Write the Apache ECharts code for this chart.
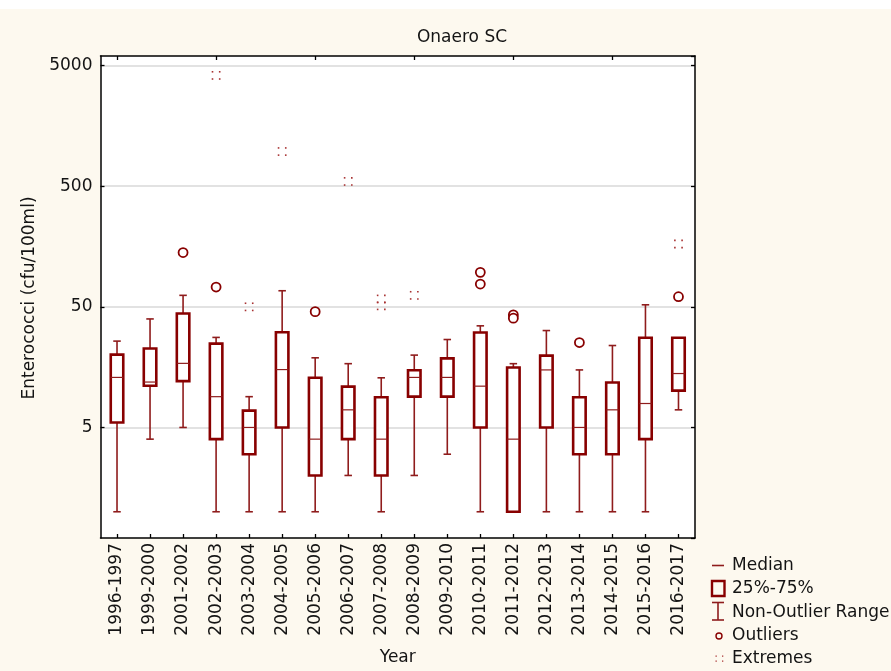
<!DOCTYPE html>
<html>
<head>
<meta charset="utf-8">
<script src="https://cdn.jsdelivr.net/npm/echarts@6/dist/echarts.min.js"></script>
<style>
html,body{margin:0;padding:0;background:#fdf9ef;}
#chart{width:891px;height:671px;}
</style>
</head>
<body>
<div id="chart"></div>
<script>
// ---- data (cfu/100ml) ----
const categories = ['1996-1997','1999-2000','2001-2002','2002-2003','2003-2004','2004-2005','2005-2006','2006-2007','2007-2008','2008-2009','2009-2010','2010-2011','2011-2012','2012-2013','2013-2014','2014-2015','2015-2016','2016-2017'];
const whiskerLow  = [1, 4, 5, 1, 1, 1, 1, 2, 1, 2, 3, 1, 1, 1, 1, 1, 1, 7];
const q1          = [5.5, 11.1, 12.1, 4, 3, 5, 2, 4, 2, 9, 9, 5, 1, 5, 3, 3, 4, 10.1];
const median      = [13, 11.9, 17, 9, 5, 15.1, 4, 7, 4, 13, 13, 11, 4, 15, 5, 7, 7.9, 14];
const q3          = [20.1, 22.6, 44, 24.8, 6.9, 30.8, 12.9, 10.9, 8.9, 14.9, 18.7, 30.6, 15.7, 19.7, 8.9, 11.8, 27.7, 27.7];
const whiskerHigh = [26, 39.7, 62.3, 27.9, 9, 68, 18.9, 16.9, 12.9, 19.9, 26.8, 34.8, 16.9, 31.8, 15, 23.9, 52, 27.7];
const outlierYears  = ['2001-2002','2002-2003','2005-2006','2010-2011','2010-2011','2011-2012','2011-2012','2013-2014','2016-2017'];
const outlierValues = [141, 73, 45.6, 96.6, 77.3, 42.9, 40.3, 25.3, 60.7];
const extremeYears  = ['2002-2003','2003-2004','2004-2005','2006-2007','2007-2008','2007-2008','2008-2009','2016-2017'];
const extremeValues = [4150, 50, 970, 548, 58.1, 51, 62.3, 166];
const yTickLabels = [5, 50, 500, 5000];
const yMin = 0.606, yMax = 6010;

// ---- build ----
const K = 5; // axis works on value/5 so that log ticks fall on 5, 50, 500, 5000
const DARK = '#880000';
const WH = '#8f1c1c';
const FONT = '"DejaVu Sans", Verdana, sans-serif';
const FS = 17;
const TXT = '#141414';

const boxData = categories.map((c, i) => [i, whiskerLow[i]/K, q1[i]/K, median[i]/K, q3[i]/K, whiskerHigh[i]/K]);
const outlierData = outlierYears.map((y, i) => [categories.indexOf(y), outlierValues[i]/K]);
const extremeData = extremeYears.map((y, i) => [categories.indexOf(y), extremeValues[i]/K]);

function renderBox(params, api) {
  const i = api.value(0);
  const x = api.coord([i, api.value(3)])[0];
  const yLo = api.coord([i, api.value(1)])[1];
  const yQ1 = api.coord([i, api.value(2)])[1];
  const yMed = api.coord([i, api.value(3)])[1];
  const yQ3 = api.coord([i, api.value(4)])[1];
  const yHi = api.coord([i, api.value(5)])[1];
  const bw = 12.5, cw = 7.5;
  const ch = [];
  const wStyle = {stroke: WH, lineWidth: 1.6};
  if (yLo - yQ1 > 0.5) {
    ch.push({type:'line', shape:{x1:x, y1:yQ1, x2:x, y2:yLo}, style:wStyle});
  }
  ch.push({type:'line', shape:{x1:x-cw/2, y1:yLo, x2:x+cw/2, y2:yLo}, style:wStyle});
  if (yQ3 - yHi > 0.5) {
    ch.push({type:'line', shape:{x1:x, y1:yHi, x2:x, y2:yQ3}, style:wStyle});
  }
  ch.push({type:'line', shape:{x1:x-cw/2, y1:yHi, x2:x+cw/2, y2:yHi}, style:wStyle});
  ch.push({type:'rect', shape:{x:x-bw/2, y:yQ3, width:bw, height:Math.max(yQ1-yQ3,1)}, style:{fill:'#ffffff', stroke:DARK, lineWidth:2.6}});
  ch.push({type:'line', shape:{x1:x-bw/2, y1:yMed, x2:x+bw/2, y2:yMed}, style:{stroke:WH, lineWidth:1.2}});
  return {type:'group', children: ch};
}

function renderExtreme(params, api) {
  const p = api.coord([api.value(0), api.value(1)]);
  const d = 3.6, s = 1.6;
  const st = {fill:'#a83232'};
  return {type:'group', children:[
    {type:'rect', shape:{x:p[0]-d-s/2, y:p[1]-d-s/2, width:s, height:s}, style:st},
    {type:'rect', shape:{x:p[0]+d-s/2, y:p[1]-d-s/2, width:s, height:s}, style:st},
    {type:'rect', shape:{x:p[0]-d-s/2, y:p[1]+d-s/2, width:s, height:s}, style:st},
    {type:'rect', shape:{x:p[0]+d-s/2, y:p[1]+d-s/2, width:s, height:s}, style:st}
  ]};
}

const chart = echarts.init(document.getElementById('chart'), null, {renderer:'canvas'});

const legendX = 711, legendTextX = 732;
const legendRows = [565.5, 589, 612.5, 636, 658.5];
const legendNames = ['Median', '25%-75%', 'Non-Outlier Range', 'Outliers', 'Extremes'];
const graphics = [
  {type:'rect', shape:{x:0, y:0, width:891, height:9}, style:{fill:'#ffffff'}, silent:true, z:-10},
  {type:'text', x:30, y:298, rotation:Math.PI/2, style:{text:'Enterococci (cfu/100ml)', fontSize:FS, fontFamily:FONT, fill:TXT, align:'center', verticalAlign:'middle', textAlign:'center', textVerticalAlign:'middle'}},
  // legend icons
  {type:'line', shape:{x1:legendX+1, y1:legendRows[0], x2:legendX+13, y2:legendRows[0]}, style:{stroke:WH, lineWidth:1.6}},
  {type:'rect', shape:{x:legendX+1, y:legendRows[1]-8, width:12.5, height:15}, style:{fill:'none', stroke:DARK, lineWidth:2.4}},
  {type:'line', shape:{x1:legendX+7, y1:legendRows[2]-10, x2:legendX+7, y2:legendRows[2]+7.5}, style:{stroke:WH, lineWidth:1.6}},
  {type:'line', shape:{x1:legendX+1, y1:legendRows[2]-10, x2:legendX+13, y2:legendRows[2]-10}, style:{stroke:WH, lineWidth:1.6}},
  {type:'line', shape:{x1:legendX+1, y1:legendRows[2]+7.5, x2:legendX+13, y2:legendRows[2]+7.5}, style:{stroke:WH, lineWidth:1.6}},
  {type:'circle', shape:{cx:legendX+8, cy:legendRows[3], r:3}, style:{fill:'none', stroke:DARK, lineWidth:1.4}},
  {type:'rect', shape:{x:legendX+4.5, y:legendRows[4]-3, width:1.3, height:1.3}, style:{fill:'#a83232'}},
  {type:'rect', shape:{x:legendX+11, y:legendRows[4]-3, width:1.3, height:1.3}, style:{fill:'#a83232'}},
  {type:'rect', shape:{x:legendX+4.5, y:legendRows[4]+2, width:1.3, height:1.3}, style:{fill:'#a83232'}},
  {type:'rect', shape:{x:legendX+11, y:legendRows[4]+2, width:1.3, height:1.3}, style:{fill:'#a83232'}}
];
legendNames.forEach((n, k) => {
  graphics.push({type:'text', x:legendTextX, y:legendRows[k], style:{text:n, fontSize:FS, fontFamily:FONT, fill:TXT, align:'left', verticalAlign:'middle', textAlign:'left', textVerticalAlign:'middle'}});
});

const yLabelFmt = v => {
  const r = Math.round(v * K);
  return yTickLabels.includes(r) ? String(r) : '';
};

const option = {
  backgroundColor: '#fdf9ef',
  animation: false,
  title: {
    text: 'Onaero SC', left: 457, top: 24, textAlign: 'center',
    textStyle: {fontSize: FS, fontWeight: 'normal', fontFamily: FONT, color: TXT}
  },
  grid: {left: 100.5, right: 196, top: 56, bottom: 131, show: true, backgroundColor: '#ffffff', borderWidth: 0},
  xAxis: [{
    type: 'category', data: categories, position: 'bottom', boundaryGap: true,
    axisLine: {show: true, lineStyle: {color: '#000', width: 1.5}},
    axisTick: {show: true, inside: true, alignWithLabel: true, length: 4, lineStyle: {color: '#000', width: 1.3}},
    axisLabel: {rotate: 90, margin: 5, fontSize: FS, fontFamily: FONT, color: TXT, interval: 0},
    splitLine: {show: false},
    name: 'Year', nameLocation: 'middle', nameGap: 111,
    nameTextStyle: {fontSize: FS, fontFamily: FONT, color: TXT, verticalAlign: 'top'}
  }, {
    type: 'category', data: categories, position: 'top', boundaryGap: true,
    axisLine: {show: true, lineStyle: {color: '#000', width: 1.5}},
    axisTick: {show: true, inside: true, alignWithLabel: true, length: 4, lineStyle: {color: '#000', width: 1.3}},
    axisLabel: {show: false}, splitLine: {show: false}
  }],
  yAxis: [{
    type: 'log', logBase: 10, min: yMin / K, max: yMax / K, position: 'left',
    axisLine: {show: true, lineStyle: {color: '#000', width: 1.5}},
    axisTick: {show: true, inside: true, length: 4, lineStyle: {color: '#000', width: 1.3}},
    minorTick: {show: false},
    axisLabel: {formatter: yLabelFmt, margin: 8, fontSize: FS, fontFamily: FONT, color: TXT, showMinLabel: false, showMaxLabel: false},
    splitLine: {show: true, showMinLine: false, showMaxLine: false, lineStyle: {color: '#d8d8d8', width: 1.6}}
  }, {
    type: 'log', logBase: 10, min: yMin / K, max: yMax / K, position: 'right',
    axisLine: {show: true, lineStyle: {color: '#000', width: 1.5}},
    axisTick: {show: true, inside: true, length: 4, lineStyle: {color: '#000', width: 1.3}},
    axisLabel: {show: false}, splitLine: {show: false}
  }],
  series: [{
    type: 'custom', name: 'box', xAxisIndex: 0, yAxisIndex: 0,
    renderItem: renderBox, data: boxData,
    encode: {x: 0, y: [1, 2, 3, 4, 5]}, z: 3
  }, {
    type: 'scatter', name: 'Outliers', xAxisIndex: 0, yAxisIndex: 0,
    data: outlierData, symbol: 'circle', symbolSize: 9,
    itemStyle: {color: '#ffffff', borderColor: DARK, borderWidth: 1.8, opacity: 1}, z: 4
  }, {
    type: 'custom', name: 'Extremes', xAxisIndex: 0, yAxisIndex: 0,
    renderItem: renderExtreme, data: extremeData,
    encode: {x: 0, y: 1}, z: 4
  }],
  graphic: graphics
};
chart.setOption(option);
</script>
</body>
</html>
